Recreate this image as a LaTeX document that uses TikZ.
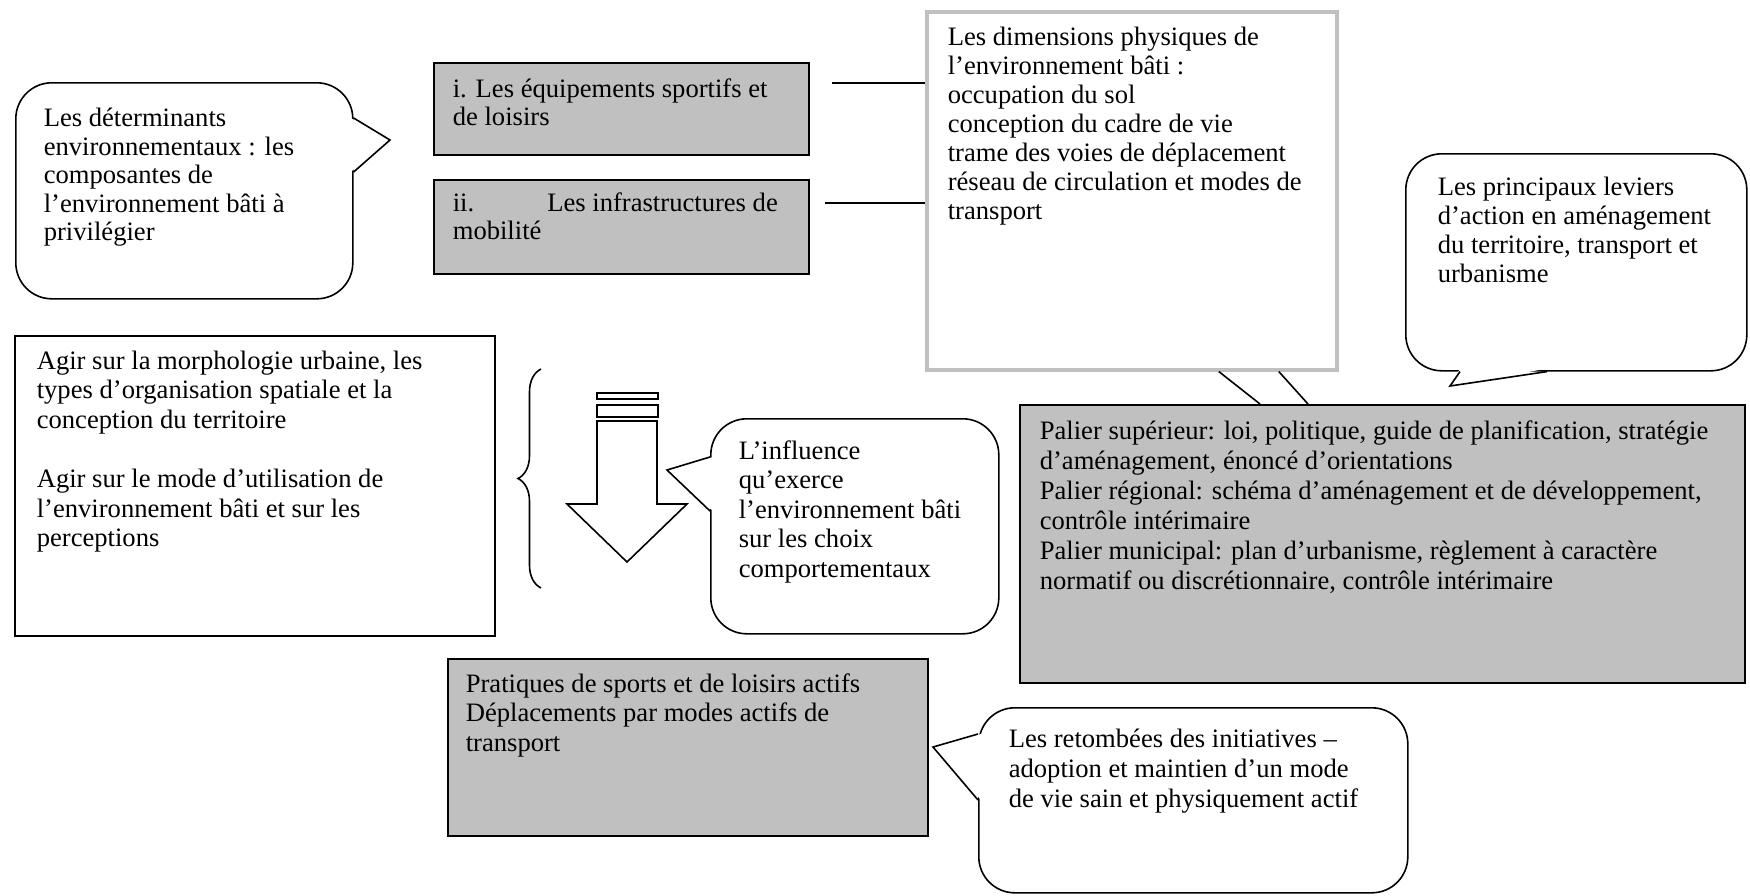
\documentclass[tikz,border=0pt]{standalone}
\usepackage{fontspec}
\setmainfont{Liberation Serif}
\usetikzlibrary{positioning,decorations.pathreplacing}
\definecolor{boxgray}{HTML}{C0C0C0}

\begin{document}
\begin{tikzpicture}[x=1pt, y=-1pt, line width=1.6pt,
  every node/.style={font=\fontsize{26.6}{29.5}\selectfont},
  panel/.style={draw, anchor=north west, inner sep=0pt},
  shaded/.style={panel, fill=boxgray},
  bubble/.style={panel, fill=white, rounded corners=36pt},
  txt/.style={inner sep=0pt, align=left}]
\useasboundingbox (0,0) rectangle (1750,895);
\fill[white] (0,0) rectangle (1750,895);

% bodies
\node[bubble, minimum width=337pt, minimum height=216pt] (det) at (15,82) {};
\node[shaded, minimum width=375pt, minimum height=92pt] (equip) at (433,62) {};
\node[shaded, minimum width=375pt, minimum height=94pt] (mob) at (433,179) {};
\node[panel, draw=boxgray, line width=3.5pt, minimum width=410pt, minimum height=358pt] (dims) at (925,10) {};
\node[bubble, minimum width=341pt, minimum height=217pt] (lev) at (1405,153) {};
\node[panel, minimum width=480pt, minimum height=300pt] (agir) at (14,335) {};
\node[bubble, minimum width=288pt, minimum height=215pt] (infl) at (710,418) {};
\node[shaded, minimum width=725pt, minimum height=278pt] (palier) at (1019,404) {};
\node[shaded, minimum width=480pt, minimum height=177pt] (prat) at (447,658) {};
\node[bubble, minimum width=429pt, minimum height=185pt] (ret) at (978,707) {};

% tails
\coordinate (dettip) at (390,140);
\coordinate (levtip) at (1450,386);
\coordinate (infltip) at (667,470);
\coordinate (rettip) at (933,747);
\fill[white] ([xshift=-3pt,yshift=-36pt]det.north east) -- (dettip) -- ([xshift=-3pt,yshift=-90pt]det.north east) -- cycle;
\draw ([yshift=-36pt]det.north east) -- (dettip) -- ([yshift=-90pt]det.north east);
\fill[white] ([xshift=55pt,yshift=3pt]lev.south west) -- (levtip) -- ([xshift=142pt,yshift=3pt]lev.south west) -- cycle;
\draw ([xshift=55pt]lev.south west) -- (levtip) -- ([xshift=142pt]lev.south west);
\fill[white] ([xshift=3pt,yshift=-39pt]infl.north west) -- (infltip) -- ([xshift=3pt,yshift=-93pt]infl.north west) -- cycle;
\draw ([yshift=-39pt]infl.north west) -- (infltip) -- ([yshift=-93pt]infl.north west);
\fill[white] ([xshift=3pt,yshift=-27pt]ret.north west) -- (rettip) -- ([xshift=3pt,yshift=-93pt]ret.north west) -- cycle;
\draw ([yshift=-27pt]ret.north west) -- (rettip) -- ([yshift=-93pt]ret.north west);

% texts
\node[txt, font=\fontsize{26.6}{28.5}\selectfont, below right=24pt and 28pt of det.north west] (dettxt)
  {\strut Les déterminants\\environnementaux : les\\composantes de\\l’environnement bâti à\\privilégier};
\node[txt, font=\fontsize{26.6}{28}\selectfont, below right=14.6pt and 19pt of equip.north west] (equiptxt)
  {\strut i. Les équipements sportifs et\\de loisirs};
\node[txt, font=\fontsize{26.6}{28}\selectfont, below right=11.6pt and 19pt of mob.north west] (mobtxt)
  {\strut\hbox to 325pt{ii.\hfill Les infrastructures de}\\mobilité};
\node[txt, font=\fontsize{26.6}{29}\selectfont, below right=14.5pt and 22pt of dims.north west] (dimstxt)
  {\strut Les dimensions physiques de\\l’environnement bâti :\\occupation du sol\\conception du cadre de vie\\trame des voies de déplacement\\réseau de circulation et modes de\\transport};
\node[txt, font=\fontsize{26.6}{29}\selectfont, below right=21.7pt and 32pt of lev.north west] (levtxt)
  {\strut Les principaux leviers\\d’action en aménagement\\du territoire, transport et\\urbanisme};
\node[txt, below right=13pt and 22pt of agir.north west] (agirtxt)
  {\strut Agir sur la morphologie urbaine, les\\types d’organisation spatiale et la\\conception du territoire\\[30pt]Agir sur le mode d’utilisation de\\l’environnement bâti et sur les\\perceptions};
\node[txt, below right=20pt and 28pt of infl.north west] (infltxt)
  {\strut L’influence\\qu’exerce\\l’environnement bâti\\sur les choix\\comportementaux};
\node[txt, font=\fontsize{26.6}{30}\selectfont, below right=13.6pt and 20pt of palier.north west] (paliertxt)
  {\strut Palier supérieur: loi, politique, guide de planification, stratégie\\d’aménagement, énoncé d’orientations\\Palier régional: schéma d’aménagement et de développement,\\contrôle intérimaire\\Palier municipal: plan d’urbanisme, règlement à caractère\\normatif ou discrétionnaire, contrôle intérimaire};
\node[txt, below right=13pt and 18pt of prat.north west] (prattxt)
  {\strut Pratiques de sports et de loisirs actifs\\Déplacements par modes actifs de\\transport};
\node[txt, font=\fontsize{26.6}{30}\selectfont, below right=19pt and 30pt of ret.north west] (rettxt)
  {\strut Les retombées des initiatives –\\adoption et maintien d’un mode\\de vie sain et physiquement actif};

% connectors
\draw ([xshift=22pt,yshift=-21pt]equip.north east) -- ([yshift=-73pt]dims.north west);
\draw ([xshift=15pt,yshift=-24pt]mob.north east) -- ([yshift=-193pt]dims.north west);
\draw ([xshift=87pt]dims.south) -- ([xshift=241pt]palier.north west);
\draw ([xshift=147pt]dims.south) -- ([xshift=289pt]palier.north west);

% brace and arrow
\draw[decorate, decoration={brace, amplitude=23pt}] (541,588) -- (541,369);
\draw (597,393) rectangle (658,399);
\draw (597,405) rectangle (658,417);
\draw (597,421) -- (597,504) -- (567,504) -- (627,562) -- (687,504) -- (657,504) -- (657,421) -- cycle;
\end{tikzpicture}
\end{document}
